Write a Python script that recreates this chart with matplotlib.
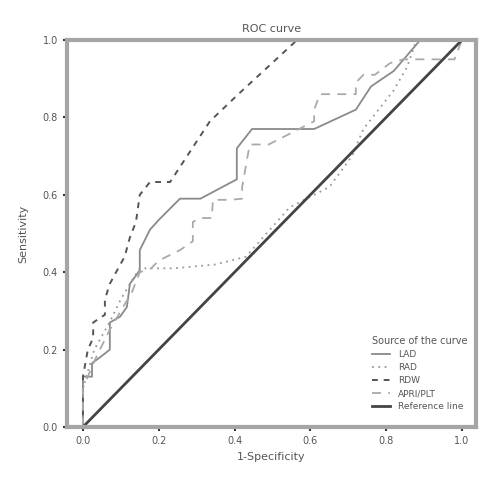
import numpy as np
import matplotlib
matplotlib.use('Agg')
import matplotlib.pyplot as plt

# ROC curve values
lad_x = [0, 0, 0.024, 0.024, 0.045, 0.071, 0.071, 0.098, 0.116, 0.124, 0.15, 0.15, 0.177, 0.20, 0.256, 0.31, 0.406, 0.406, 0.446, 0.61, 0.72, 0.76, 0.82, 0.89, 1.0]
lad_y = [0, 0.13, 0.13, 0.165, 0.18, 0.2, 0.27, 0.285, 0.31, 0.37, 0.405, 0.457, 0.51, 0.535, 0.59, 0.59, 0.64, 0.72, 0.77, 0.77, 0.82, 0.88, 0.92, 1.0, 1.0]

rad_x = [0, 0, 0.03, 0.07, 0.10, 0.13, 0.15, 0.24, 0.35, 0.43, 0.546, 0.65, 0.71, 0.74, 0.82, 0.855, 0.88, 1.0]
rad_y = [0, 0.10, 0.20, 0.27, 0.33, 0.38, 0.41, 0.41, 0.42, 0.44, 0.568, 0.62, 0.70, 0.77, 0.87, 0.93, 1.0, 1.0]

rdw_x = [0, 0, 0.013, 0.027, 0.027, 0.058, 0.058, 0.071, 0.093, 0.11, 0.124, 0.14, 0.15, 0.177, 0.23, 0.335, 0.41, 0.565, 1.0]
rdw_y = [0, 0.13, 0.2, 0.23, 0.27, 0.29, 0.33, 0.37, 0.41, 0.44, 0.49, 0.53, 0.60, 0.633, 0.633, 0.79, 0.86, 1.0, 1.0]

apri_x = [0, 0, 0.03, 0.07, 0.10, 0.13, 0.15, 0.18, 0.20, 0.256, 0.29, 0.29, 0.31, 0.34, 0.343, 0.39, 0.42, 0.42, 0.44, 0.49, 0.55, 0.61, 0.61, 0.625, 0.72, 0.72, 0.74, 0.77, 0.81, 0.845, 0.98, 1.0]
apri_y = [0, 0.10, 0.17, 0.25, 0.30, 0.35, 0.40, 0.41, 0.43, 0.457, 0.48, 0.53, 0.54, 0.54, 0.587, 0.587, 0.59, 0.62, 0.73, 0.73, 0.76, 0.79, 0.82, 0.86, 0.86, 0.89, 0.91, 0.91, 0.94, 0.95, 0.95, 1.0]

ref_x = [0, 1]
ref_y = [0, 1]

ticks = [0.0, 0.2, 0.4, 0.6, 0.8, 1.0]

fig = plt.figure(figsize=(5, 5), dpi=100)
ax = fig.add_axes([0.134, 0.146, 0.818, 0.774])

ax.plot(lad_x, lad_y, color='#8a8a8a', lw=1.3, label='LAD', clip_on=False)
ax.plot(rad_x, rad_y, color='#999999', lw=1.3, ls=(0, (1, 2.5)), label='RAD', clip_on=False)
ax.plot(rdw_x, rdw_y, color='#555555', lw=1.4, ls=(0, (3, 3)), label='RDW', clip_on=False)
ax.plot(apri_x, apri_y, color='#aaaaaa', lw=1.3, ls=(0, (5, 4)), label='APRI/PLT', clip_on=False)
ax.plot(ref_x, ref_y, color='#444444', lw=2, label='Reference line', clip_on=False)

ax.set_xlim(-0.042, 1.037)
ax.set_ylim(0, 1)
ax.set_xticks(ticks)
ax.set_yticks(ticks)
ax.set_xticklabels(['%.1f' % t for t in ticks])
ax.set_yticklabels(['%.1f' % t for t in ticks])
ax.tick_params(labelsize=7, colors='#333333', length=3, width=1.5, labelcolor='#555555')
for s in ax.spines.values():
    s.set_color('#a5a5a5')
    s.set_linewidth(3)

ax.set_title('ROC curve', fontsize=8, color='#555555')
ax.set_xlabel('1-Specificity', fontsize=8, color='#555555')
ax.set_ylabel('Sensitivity', fontsize=8, color='#555555', labelpad=10)

leg = ax.legend(title='Source of the curve', loc='lower right', frameon=False,
                fontsize=6.5, title_fontsize=7, handlelength=2, labelspacing=0.45,
                bbox_to_anchor=(1.0, 0.02))
for t in leg.get_texts():
    t.set_color('#555555')
leg.get_title().set_color('#555555')
leg._legend_box.align = 'left'

plt.savefig('out.png')
